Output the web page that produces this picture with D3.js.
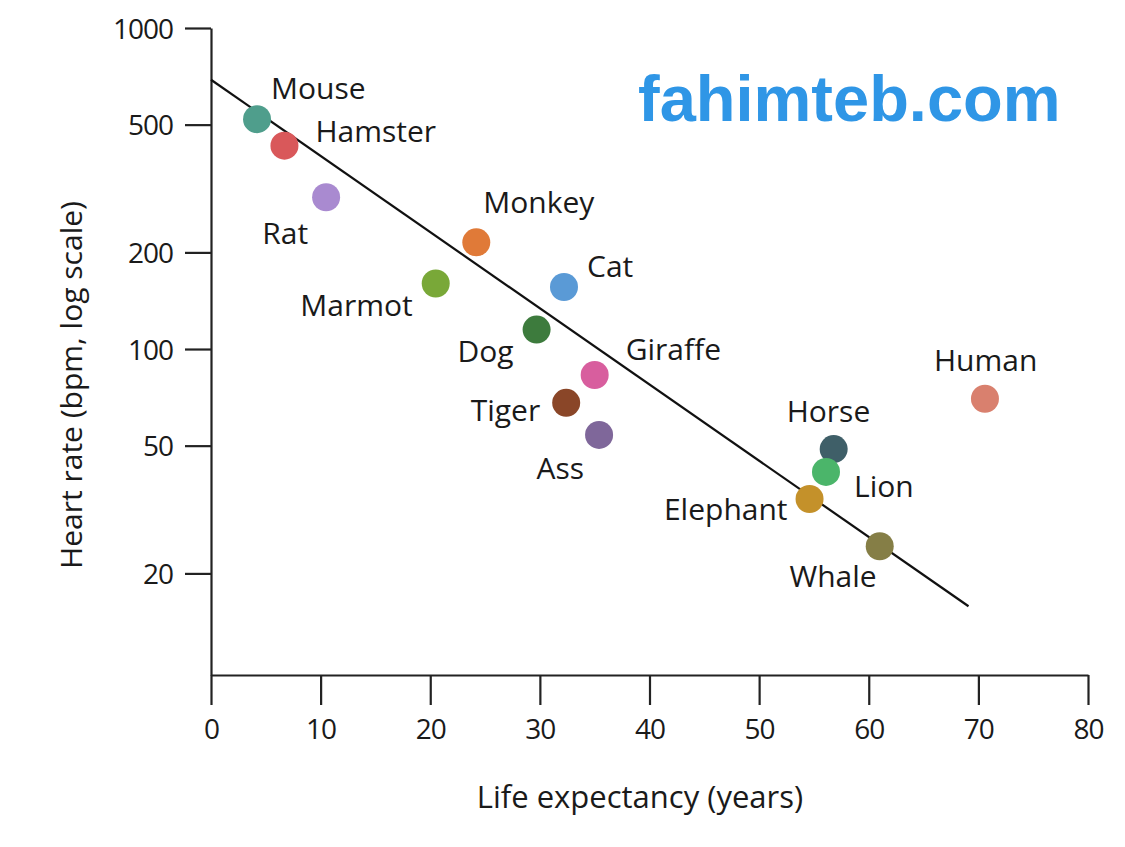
<!DOCTYPE html>
<html>
<head>
<meta charset="utf-8">
<script src="https://cdn.jsdelivr.net/npm/d3@7"></script>
<style>
    body { margin: 0; background: #fff; }
</style>
</head>
<body>
<div id="chart"></div>
<script>
// animals, drawn in this order
const animals = ['Mouse', 'Hamster', 'Rat', 'Monkey', 'Marmot', 'Cat', 'Dog', 'Giraffe',
    'Tiger', 'Ass', 'Horse', 'Lion', 'Elephant', 'Whale', 'Human'];
const lifeExpectancy = [4.2, 6.7, 10.5, 24.2, 20.5, 32.2, 29.7, 35.0, 32.4, 35.4, 56.8, 56.1, 54.6, 61.0, 70.6];
const heartRate = [520, 430, 297, 215, 160, 156, 115, 83, 68, 54, 48.8, 41.4, 34.1, 24.3, 70];
const colors = ['#4f9e8c', '#d9585a', '#a98ad0', '#e07a38', '#79a838', '#5a9ad6', '#3d7b3d', '#d85e9e',
    '#8a4628', '#7f679a', '#3f5f68', '#4bb56a', '#c4912a', '#857e46', '#d9806e'];

// fitted trend line end points [years, bpm]
const trendLine = [[0, 690], [69.1, 15.8]];

const xTicks = [0, 10, 20, 30, 40, 50, 60, 70, 80];
const yTicks = [1000, 500, 200, 100, 50, 20];

// label placement relative to each dot
const labelPos = {
    Mouse: [14, -20, 'start'],
    Hamster: [31, -4, 'start'],
    Rat: [-18, 47, 'end'],
    Monkey: [7, -29, 'start'],
    Marmot: [-23, 33, 'end'],
    Cat: [23, -10, 'start'],
    Dog: [-23, 32, 'end'],
    Giraffe: [31, -15, 'start'],
    Tiger: [-26, 18, 'end'],
    Ass: [-15, 44, 'end'],
    Horse: [-47, -27, 'start'],
    Lion: [28, 25, 'start'],
    Elephant: [-22, 21, 'end'],
    Whale: [-3, 41, 'end'],
    Human: [-51, -28, 'start']
};

const width = 1125;
const height = 847;
const font = '"Open Sans", sans-serif';

const x = d3.scaleLinear().domain([0, 80]).range([211, 1088]);
const y = d3.scaleLog().domain([9.65, 1000]).range([675, 28]);

const svg = d3.select('#chart')
    .append('svg')
    .attr('width', width)
    .attr('height', height);

// axes
const xAxis = svg.append('g')
    .attr('transform', 'translate(0,675)')
    .call(d3.axisBottom(x).tickValues(xTicks).tickSize(30).tickSizeOuter(0).tickPadding(14));

const yAxis = svg.append('g')
    .attr('transform', 'translate(211,0)')
    .call(d3.axisLeft(y).tickValues(yTicks).tickFormat(d3.format('d')).tickSize(26).tickSizeOuter(0).tickPadding(12));

[xAxis, yAxis].forEach(g => {
    g.select('.domain').attr('stroke', '#222').attr('stroke-width', 2.2);
    g.selectAll('.tick line').attr('stroke', '#222').attr('stroke-width', 2.2);
    g.selectAll('.tick text')
        .style('font-family', font)
        .style('font-size', '28px')
        .style('letter-spacing', '-1px')
        .style('fill', '#1a1a1a');
});
yAxis.selectAll('.tick text').attr('dy', '0.36em');

// axis titles
svg.append('text')
    .attr('x', 640)
    .attr('y', 808)
    .attr('text-anchor', 'middle')
    .style('font-family', font)
    .style('font-size', '31px')
    .style('fill', '#1a1a1a')
    .text('Life expectancy (years)');

svg.append('text')
    .attr('transform', 'translate(82,385) rotate(-90)')
    .attr('text-anchor', 'middle')
    .style('font-family', font)
    .style('font-size', '30px')
    .style('fill', '#1a1a1a')
    .text('Heart rate (bpm, log scale)');

// trend line
svg.append('path')
    .datum(trendLine)
    .attr('d', d3.line().x(d => x(d[0])).y(d => y(d[1])))
    .attr('fill', 'none')
    .attr('stroke', '#111')
    .attr('stroke-width', 2.2);

const points = animals.map((name, i) => ({
    name, life: lifeExpectancy[i], rate: heartRate[i], color: colors[i]
}));

svg.append('g')
    .selectAll('circle')
    .data(points)
    .enter()
    .append('circle')
    .attr('cx', d => x(d.life))
    .attr('cy', d => y(d.rate))
    .attr('r', 14)
    .attr('fill', d => d.color);

svg.append('g')
    .selectAll('text')
    .data(points)
    .enter()
    .append('text')
    .attr('x', d => x(d.life) + labelPos[d.name][0])
    .attr('y', d => y(d.rate) + labelPos[d.name][1])
    .attr('text-anchor', d => labelPos[d.name][2])
    .style('font-family', font)
    .style('font-size', '30px')
    .style('fill', '#1a1a1a')
    .text(d => d.name);

// watermark
svg.append('text')
    .attr('x', 638)
    .attr('y', 121)
    .style('font-family', '"Liberation Sans", Arial, sans-serif')
    .style('font-weight', 'bold')
    .style('font-size', '65px')
    .style('fill', '#2f96e6')
    .text('fahimteb.com');
</script>
</body>
</html>
